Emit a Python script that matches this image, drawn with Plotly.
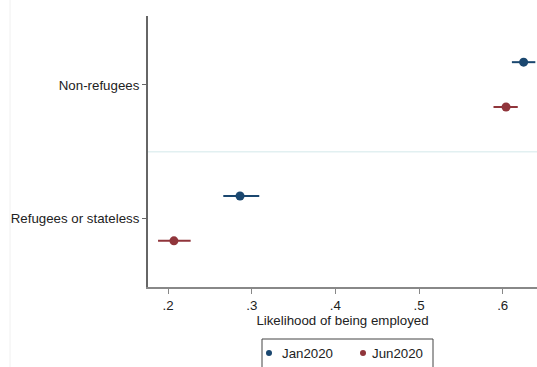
import plotly.graph_objects as go

categories = ["Refugees or stateless", "Non-refugees"]
cat_pos = [1, 2]
series_names = ["Jan2020", "Jun2020"]
jan_est = [0.286, 0.625]
jan_lo = [0.266, 0.611]
jan_hi = [0.309, 0.639]
jun_est = [0.207, 0.604]
jun_lo = [0.188, 0.589]
jun_hi = [0.227, 0.618]
x_ticks = [0.2, 0.3, 0.4, 0.5, 0.6]
x_ticklabels = [".2", ".3", ".4", ".5", ".6"]

colors = ["#1a476f", "#90353b"]
offsets = [0.17, -0.165]

# body margin is removed by post_script, so page pixels == figure pixels
W, H = 537, 367
L, T, R = 148, 16, 0
B = H - 287
PW, PH = W - L - R, H - T - B


def px(x):
    return (x - L) / PW


def py(y):
    return (H - B - y) / PH


fig = go.Figure()
for name, est, lo, hi, col, off in [
    (series_names[0], jan_est, jan_lo, jan_hi, colors[0], offsets[0]),
    (series_names[1], jun_est, jun_lo, jun_hi, colors[1], offsets[1]),
]:
    fig.add_trace(go.Scatter(
        x=est,
        y=[p + off for p in cat_pos],
        mode="markers",
        name=name,
        marker=dict(color=col, size=9),
        error_x=dict(
            type="data",
            array=[h - e for h, e in zip(hi, est)],
            arrayminus=[e - l for e, l in zip(est, lo)],
            color=col,
            thickness=2,
            width=0,
        ),
        cliponaxis=False,
        showlegend=False,
    ))

shapes = [
    dict(type="line", xref="paper", yref="y", x0=0, x1=1, y0=1.5, y1=1.5,
         line=dict(color="#e2f0f1", width=1.5), layer="below"),
    dict(type="line", xref="paper", yref="paper", x0=px(10), x1=px(10), y0=py(380), y1=py(-10),
         line=dict(color="#f0f0f0", width=1)),
    dict(type="rect", xref="paper", yref="paper", x0=px(262), x1=px(433), y0=py(380), y1=py(339),
         line=dict(color="#444", width=1), fillcolor="white"),
]
annotations = []
leg_items = [(series_names[0], colors[0], 269, 280), (series_names[1], colors[1], 363, 370)]
for name, col, mx, tx in leg_items:
    shapes.append(dict(type="circle", xref="paper", yref="paper",
                       x0=px(mx - 3), x1=px(mx + 3), y0=py(356), y1=py(350),
                       line=dict(color=col, width=0), fillcolor=col))
    annotations.append(dict(text=name, xref="paper", yref="paper", x=px(tx), y=py(353),
                            xanchor="left", yanchor="middle", showarrow=False,
                            font=dict(size=13.3, color="#222")))

fig.update_layout(
    width=W, height=H,
    margin=dict(l=L, r=R, t=T, b=B, autoexpand=False),
    paper_bgcolor="white", plot_bgcolor="white",
    font=dict(family="Liberation Sans, Arial, sans-serif", size=13.3, color="#222"),
    showlegend=False,
    xaxis=dict(
        range=[0.176, 0.641], tickvals=x_ticks, ticktext=x_ticklabels,
        showgrid=False, zeroline=False, showline=True, linecolor="#888", linewidth=2,
        ticks="outside", ticklen=5, tickcolor="#888", tickwidth=1, automargin=False,
        title=dict(text="Likelihood of being employed", standoff=4, font=dict(size=13.3)),
    ),
    yaxis=dict(
        range=[0.49, 2.515], tickvals=cat_pos, ticktext=categories,
        showgrid=False, zeroline=False, showline=True, linecolor="#666", linewidth=2,
        ticks="outside", ticklen=4, tickcolor="#666", tickwidth=1, automargin=False,
    ),
    shapes=shapes,
    annotations=annotations,
)

fig.write_html(
    "out.html",
    config={"displayModeBar": False},
    post_script=(
        "document.documentElement.style.overflow='hidden';"
        "document.body.style.overflow='hidden';"
        "document.body.style.margin='0';"
    ),
)
